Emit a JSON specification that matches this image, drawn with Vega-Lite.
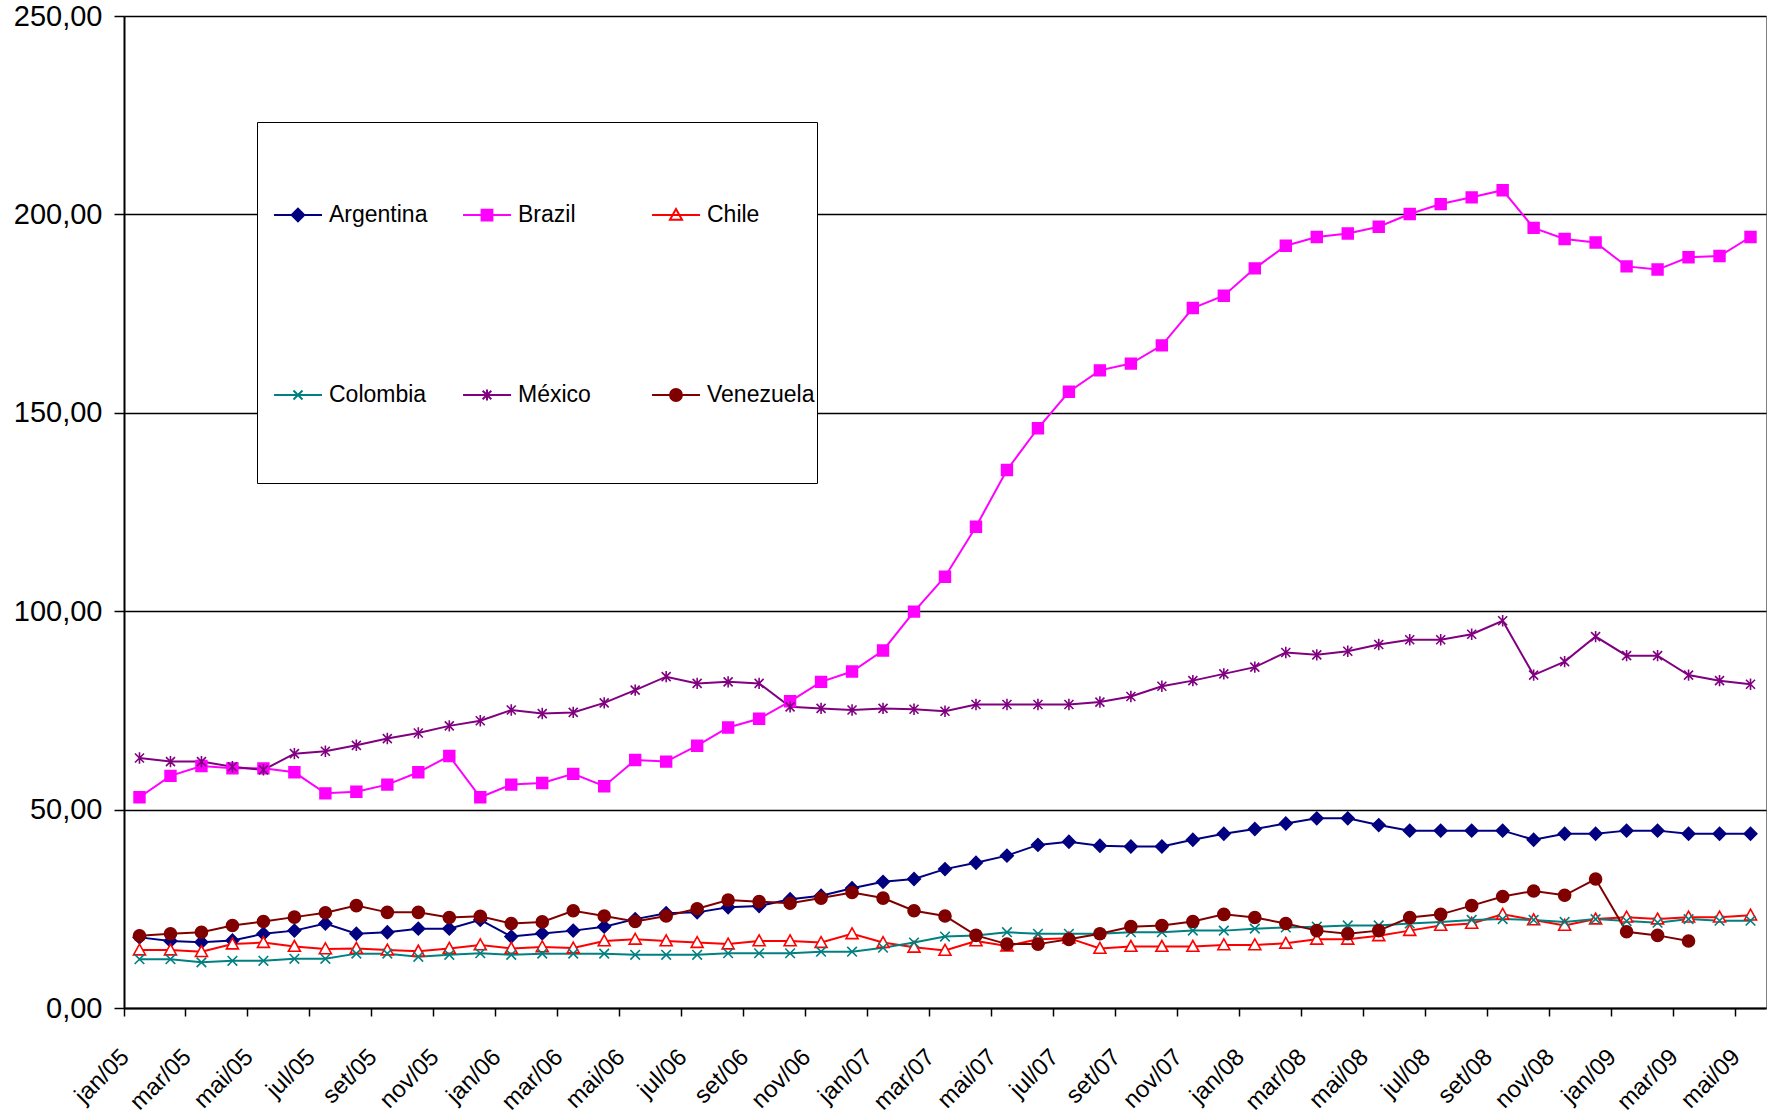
{
  "$schema": "https://vega.github.io/schema/vega-lite/v6.json",
  "width": 1642,
  "height": 992,
  "autosize": {"type": "none"},
  "padding": {"left": 124, "top": 16, "right": 10, "bottom": 108},
  "background": "white",
  "config": {"font": "Liberation Sans", "view": {"stroke": "#808080", "strokeWidth": 1}},
  "data": {"values": [
    {"mes": "jan/05", "Argentina": 17.8, "Brazil": 53.1, "Chile": 14.6, "Colombia": 12.3, "México": 63.0, "Venezuela": 18.2},
    {"mes": "fev/05", "Argentina": 16.9, "Brazil": 58.5, "Chile": 14.6, "Colombia": 12.3, "México": 62.1, "Venezuela": 18.7},
    {"mes": "mar/05", "Argentina": 16.6, "Brazil": 61.0, "Chile": 14.2, "Colombia": 11.5, "México": 62.1, "Venezuela": 19.1},
    {"mes": "abr/05", "Argentina": 17.0, "Brazil": 60.4, "Chile": 16.1, "Colombia": 11.9, "México": 60.8, "Venezuela": 20.8},
    {"mes": "mai/05", "Argentina": 18.7, "Brazil": 60.4, "Chile": 16.5, "Colombia": 11.9, "México": 60.0, "Venezuela": 21.8},
    {"mes": "jun/05", "Argentina": 19.5, "Brazil": 59.4, "Chile": 15.5, "Colombia": 12.4, "México": 64.1, "Venezuela": 22.9},
    {"mes": "jul/05", "Argentina": 21.3, "Brazil": 54.1, "Chile": 14.9, "Colombia": 12.4, "México": 64.7, "Venezuela": 24.0},
    {"mes": "ago/05", "Argentina": 18.7, "Brazil": 54.5, "Chile": 15.0, "Colombia": 13.7, "México": 66.2, "Venezuela": 25.8},
    {"mes": "set/05", "Argentina": 19.1, "Brazil": 56.3, "Chile": 14.6, "Colombia": 13.7, "México": 67.9, "Venezuela": 24.1},
    {"mes": "out/05", "Argentina": 20.0, "Brazil": 59.4, "Chile": 14.3, "Colombia": 12.9, "México": 69.3, "Venezuela": 24.1},
    {"mes": "nov/05", "Argentina": 20.0, "Brazil": 63.5, "Chile": 15.0, "Colombia": 13.4, "México": 71.1, "Venezuela": 22.8},
    {"mes": "dez/05", "Argentina": 22.2, "Brazil": 53.1, "Chile": 15.9, "Colombia": 13.8, "México": 72.4, "Venezuela": 23.1},
    {"mes": "jan/06", "Argentina": 18.0, "Brazil": 56.3, "Chile": 15.0, "Colombia": 13.4, "México": 75.1, "Venezuela": 21.3},
    {"mes": "fev/06", "Argentina": 18.8, "Brazil": 56.7, "Chile": 15.4, "Colombia": 13.7, "México": 74.2, "Venezuela": 21.7},
    {"mes": "mar/06", "Argentina": 19.5, "Brazil": 59.0, "Chile": 15.1, "Colombia": 13.7, "México": 74.5, "Venezuela": 24.5},
    {"mes": "abr/06", "Argentina": 20.5, "Brazil": 55.9, "Chile": 16.9, "Colombia": 13.7, "México": 76.9, "Venezuela": 23.2},
    {"mes": "mai/06", "Argentina": 22.4, "Brazil": 62.5, "Chile": 17.3, "Colombia": 13.4, "México": 80.1, "Venezuela": 21.8},
    {"mes": "jun/06", "Argentina": 23.9, "Brazil": 62.1, "Chile": 16.9, "Colombia": 13.4, "México": 83.5, "Venezuela": 23.2},
    {"mes": "jul/06", "Argentina": 24.1, "Brazil": 66.1, "Chile": 16.5, "Colombia": 13.4, "México": 81.8, "Venezuela": 25.0},
    {"mes": "ago/06", "Argentina": 25.4, "Brazil": 70.7, "Chile": 16.1, "Colombia": 13.8, "México": 82.2, "Venezuela": 27.2},
    {"mes": "set/06", "Argentina": 25.7, "Brazil": 72.9, "Chile": 16.9, "Colombia": 13.8, "México": 81.8, "Venezuela": 26.8},
    {"mes": "out/06", "Argentina": 27.4, "Brazil": 77.3, "Chile": 16.9, "Colombia": 13.8, "México": 75.9, "Venezuela": 26.4},
    {"mes": "nov/06", "Argentina": 28.3, "Brazil": 82.2, "Chile": 16.5, "Colombia": 14.2, "México": 75.5, "Venezuela": 27.7},
    {"mes": "dez/06", "Argentina": 30.2, "Brazil": 84.8, "Chile": 18.7, "Colombia": 14.2, "México": 75.1, "Venezuela": 29.1},
    {"mes": "jan/07", "Argentina": 31.8, "Brazil": 90.1, "Chile": 16.5, "Colombia": 15.2, "México": 75.5, "Venezuela": 27.7},
    {"mes": "fev/07", "Argentina": 32.5, "Brazil": 99.9, "Chile": 15.3, "Colombia": 16.5, "México": 75.3, "Venezuela": 24.5},
    {"mes": "mar/07", "Argentina": 35.0, "Brazil": 108.7, "Chile": 14.5, "Colombia": 18.0, "México": 74.8, "Venezuela": 23.2},
    {"mes": "abr/07", "Argentina": 36.6, "Brazil": 121.3, "Chile": 16.9, "Colombia": 18.3, "México": 76.5, "Venezuela": 18.3},
    {"mes": "mai/07", "Argentina": 38.4, "Brazil": 135.6, "Chile": 15.6, "Colombia": 19.1, "México": 76.5, "Venezuela": 16.1},
    {"mes": "jun/07", "Argentina": 41.1, "Brazil": 146.1, "Chile": 17.3, "Colombia": 18.7, "México": 76.5, "Venezuela": 16.1},
    {"mes": "jul/07", "Argentina": 41.9, "Brazil": 155.3, "Chile": 17.6, "Colombia": 18.7, "México": 76.5, "Venezuela": 17.3},
    {"mes": "ago/07", "Argentina": 40.9, "Brazil": 160.7, "Chile": 15.0, "Colombia": 18.7, "México": 77.1, "Venezuela": 18.7},
    {"mes": "set/07", "Argentina": 40.7, "Brazil": 162.4, "Chile": 15.5, "Colombia": 19.1, "México": 78.5, "Venezuela": 20.5},
    {"mes": "out/07", "Argentina": 40.7, "Brazil": 167.0, "Chile": 15.5, "Colombia": 19.1, "México": 81.1, "Venezuela": 20.8},
    {"mes": "nov/07", "Argentina": 42.4, "Brazil": 176.4, "Chile": 15.5, "Colombia": 19.5, "México": 82.5, "Venezuela": 21.8},
    {"mes": "dez/07", "Argentina": 43.9, "Brazil": 179.5, "Chile": 15.9, "Colombia": 19.5, "México": 84.2, "Venezuela": 23.6},
    {"mes": "jan/08", "Argentina": 45.1, "Brazil": 186.4, "Chile": 15.9, "Colombia": 20.0, "México": 85.9, "Venezuela": 22.8},
    {"mes": "fev/08", "Argentina": 46.5, "Brazil": 192.1, "Chile": 16.3, "Colombia": 20.3, "México": 89.6, "Venezuela": 21.3},
    {"mes": "mar/08", "Argentina": 47.8, "Brazil": 194.3, "Chile": 17.3, "Colombia": 20.5, "México": 89.0, "Venezuela": 19.5},
    {"mes": "abr/08", "Argentina": 47.8, "Brazil": 195.2, "Chile": 17.3, "Colombia": 20.8, "México": 89.9, "Venezuela": 18.7},
    {"mes": "mai/08", "Argentina": 46.1, "Brazil": 196.9, "Chile": 18.2, "Colombia": 20.8, "México": 91.6, "Venezuela": 19.5},
    {"mes": "jun/08", "Argentina": 44.7, "Brazil": 200.1, "Chile": 19.5, "Colombia": 21.3, "México": 92.8, "Venezuela": 22.8},
    {"mes": "jul/08", "Argentina": 44.7, "Brazil": 202.6, "Chile": 20.8, "Colombia": 21.7, "México": 92.8, "Venezuela": 23.6},
    {"mes": "ago/08", "Argentina": 44.7, "Brazil": 204.3, "Chile": 21.3, "Colombia": 22.2, "México": 94.2, "Venezuela": 25.8},
    {"mes": "set/08", "Argentina": 44.7, "Brazil": 206.1, "Chile": 23.6, "Colombia": 22.4, "México": 97.6, "Venezuela": 28.1},
    {"mes": "out/08", "Argentina": 42.4, "Brazil": 196.6, "Chile": 22.2, "Colombia": 22.2, "México": 83.9, "Venezuela": 29.5},
    {"mes": "nov/08", "Argentina": 43.9, "Brazil": 193.8, "Chile": 20.8, "Colombia": 21.7, "México": 87.3, "Venezuela": 28.4},
    {"mes": "dez/08", "Argentina": 43.9, "Brazil": 192.9, "Chile": 22.4, "Colombia": 22.4, "México": 93.6, "Venezuela": 32.5},
    {"mes": "jan/09", "Argentina": 44.7, "Brazil": 186.9, "Chile": 22.9, "Colombia": 21.9, "México": 88.8, "Venezuela": 19.2},
    {"mes": "fev/09", "Argentina": 44.7, "Brazil": 186.1, "Chile": 22.4, "Colombia": 21.5, "México": 88.8, "Venezuela": 18.3},
    {"mes": "mar/09", "Argentina": 43.9, "Brazil": 189.2, "Chile": 22.9, "Colombia": 22.4, "México": 83.9, "Venezuela": 16.9},
    {"mes": "abr/09", "Argentina": 43.9, "Brazil": 189.5, "Chile": 22.9, "Colombia": 22.0, "México": 82.5, "Venezuela": null},
    {"mes": "mai/09", "Argentina": 43.9, "Brazil": 194.3, "Chile": 23.4, "Colombia": 22.0, "México": 81.6, "Venezuela": null}
  ]},
  "transform": [
    {"fold": ["Argentina", "Brazil", "Chile", "Colombia", "México", "Venezuela"], "as": ["pais", "valor"]},
    {"filter": "datum.valor != null"}
  ],
  "encoding": {
    "x": {
      "field": "mes", "type": "ordinal", "sort": null,
      "scale": {"type": "band", "paddingInner": 0, "paddingOuter": 0},
      "axis": {
        "values": ["jan/05","mar/05","mai/05","jul/05","set/05","nov/05","jan/06","mar/06","mai/06","jul/06","set/06","nov/06","jan/07","mar/07","mai/07","jul/07","set/07","nov/07","jan/08","mar/08","mai/08","jul/08","set/08","nov/08","jan/09","mar/09","mai/09"],
        "bandPosition": 0,
        "title": null,
        "grid": false,
        "labelAngle": -45,
        "labelAlign": "right",
        "labelBaseline": "middle",
        "labelFont": "Liberation Sans",
        "labelFontSize": 24,
        "labelColor": "black",
        "labelPadding": 37,
        "labelOffset": -14,
        "labelOverlap": false,
        "labelBound": false,
        "labelFlush": false,
        "tickSize": 8,
        "tickColor": "black",
        "tickWidth": 1.5,
        "domainColor": "black",
        "domainWidth": 2
      }
    },
    "y": {
      "field": "valor", "type": "quantitative",
      "scale": {"domain": [0, 250], "nice": false},
      "axis": {
        "values": [0, 50, 100, 150, 200, 250],
        "labelExpr": "replace(format(datum.value, '.2f'), '.', ',')",
        "title": null,
        "grid": true,
        "gridColor": "black",
        "gridWidth": 1.3,
        "gridOpacity": 1,
        "domainColor": "black",
        "domainWidth": 2,
        "tickColor": "black",
        "tickWidth": 1.5,
        "tickSize": 10,
        "labelFont": "Liberation Sans",
        "labelFontSize": 29,
        "labelColor": "black",
        "labelPadding": 12
      }
    },
    "color": {
      "field": "pais", "type": "nominal",
      "scale": {"domain": ["Argentina", "Brazil", "Chile", "Colombia", "México", "Venezuela"], "range": ["#000080", "#ff00ff", "#ff0000", "#008080", "#800080", "#800000"]}
    }
  },
  "layer": [
    {
      "mark": {"type": "line", "strokeWidth": 2},
      "encoding": {
        "color": {"field": "pais", "type": "nominal", "legend": null}
      }
    },
    {
      "mark": {"type": "point", "filled": false, "size": 144, "strokeWidth": 1.6, "opacity": 1},
      "encoding": {
        "color": {"field": "pais", "type": "nominal", "legend": null},
        "shape": {
          "field": "pais", "type": "nominal",
          "scale": {"domain": ["Argentina", "Brazil", "Chile", "Colombia", "México", "Venezuela"], "range": ["M-1.05,0L0,-1.05L1.05,0L0,1.05Z", "M-0.9,-0.9L0.9,-0.9L0.9,0.9L-0.9,0.9Z", "M0,-1L1,0.8L-1,0.8Z", "M-0.8,-0.8L0.8,0.8M-0.8,0.8L0.8,-0.8", "M-0.75,-0.75L0.75,0.75M-0.75,0.75L0.75,-0.75M0,-0.95L0,0.95", "M-1,0A1,1,0,1,1,1,0A1,1,0,1,1,-1,0Z"]},
          "legend": null
        },
        "fill": {
          "field": "pais", "type": "nominal",
          "scale": {"domain": ["Argentina", "Brazil", "Chile", "Colombia", "México", "Venezuela"], "range": ["#000080", "#ff00ff", "white", "transparent", "transparent", "#800000"]},
          "legend": null
        }
      }
    },
    {
      "mark": {"type": "point", "filled": false, "size": 1, "strokeWidth": 2, "opacity": 0},
      "encoding": {
        "color": {
          "field": "pais", "type": "nominal",
          "legend": {
            "orient": "none", "legendX": 133, "legendY": 106,
            "direction": "horizontal", "columns": 3, "title": null,
            "strokeColor": "black", "fillColor": "white",
            "padding": 2, "rowPadding": 0, "columnPadding": 8, "gridAlign": "all",
            "symbolSize": 32400, "symbolStrokeWidth": 2, "symbolOpacity": 1,
            "labelFont": "Liberation Sans", "labelFontSize": 23, "labelColor": "black",
            "labelOffset": -112, "labelLimit": 300
          }
        },
        "shape": {
          "field": "pais", "type": "nominal",
          "scale": {"domain": ["Argentina", "Brazil", "Chile", "Colombia", "México", "Venezuela"], "range": [
            "M-0.844,0L-0.311,0M-0.648,0L-0.578,-0.07L-0.508,0L-0.578,0.07ZM-1,-1M-1,0.91",
            "M-0.844,0L-0.311,0M-0.638,-0.06L-0.518,-0.06L-0.518,0.06L-0.638,0.06ZM-1,-1M-1,0.91",
            "M-0.844,0L-0.311,0M-0.578,-0.067L-0.511,0.053L-0.645,0.053ZM-1,-1M-1,0.91",
            "M-0.844,0L-0.311,0M-0.628,-0.05L-0.528,0.05M-0.628,0.05L-0.528,-0.05M-1,-1M-1,0.91",
            "M-0.844,0L-0.311,0M-0.626,-0.048L-0.53,0.048M-0.626,0.048L-0.53,-0.048M-0.578,-0.06L-0.578,0.06M-1,-1M-1,0.91",
            "M-0.844,0L-0.311,0M-0.644,0A0.066,0.066,0,1,1,-0.512,0A0.066,0.066,0,1,1,-0.644,0ZM-1,-1M-1,0.91"
          ]},
          "legend": {
            "orient": "none", "legendX": 133, "legendY": 106,
            "direction": "horizontal", "columns": 3, "title": null,
            "strokeColor": "black", "fillColor": "white",
            "padding": 2, "rowPadding": 0, "columnPadding": 8, "gridAlign": "all",
            "symbolSize": 32400, "symbolStrokeWidth": 2, "symbolOpacity": 1,
            "labelFont": "Liberation Sans", "labelFontSize": 23, "labelColor": "black",
            "labelOffset": -112, "labelLimit": 300
          }
        },
        "fill": {
          "field": "pais", "type": "nominal",
          "legend": {
            "orient": "none", "legendX": 133, "legendY": 106,
            "direction": "horizontal", "columns": 3, "title": null,
            "strokeColor": "black", "fillColor": "white",
            "padding": 2, "rowPadding": 0, "columnPadding": 8, "gridAlign": "all",
            "symbolSize": 32400, "symbolStrokeWidth": 2, "symbolOpacity": 1,
            "labelFont": "Liberation Sans", "labelFontSize": 23, "labelColor": "black",
            "labelOffset": -112, "labelLimit": 300
          }
        }
      }
    }
  ],
  "resolve": {
    "scale": {"shape": "independent"},
    "legend": {"color": "independent", "shape": "independent", "fill": "independent"}
  }
}
